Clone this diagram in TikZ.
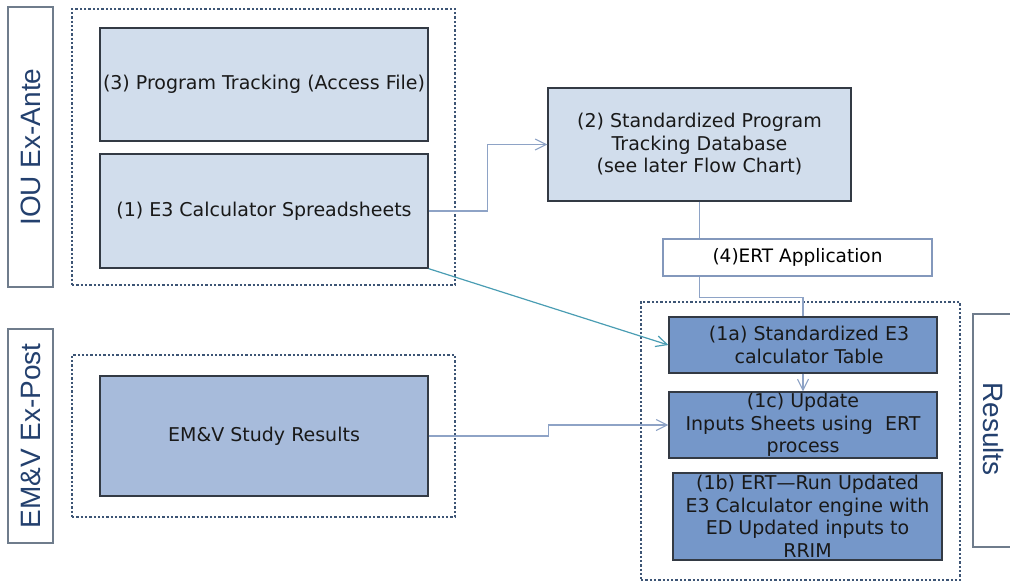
\documentclass[tikz,border=0pt]{standalone}
\usepackage{fontspec}
\setmainfont{DejaVu Sans}
\newfontfamily\labelfont{Liberation Sans}
\usetikzlibrary{arrows.meta}

\definecolor{lightfill}{HTML}{D1DDEC}
\definecolor{midfill}{HTML}{A7BBDB}
\definecolor{darkfill}{HTML}{7597C9}
\definecolor{boxline}{HTML}{333A44}
\definecolor{grouplne}{HTML}{3D5575}
\definecolor{connclr}{HTML}{8EA3C6}
\definecolor{tealclr}{HTML}{4A9DB3}
\definecolor{labelclr}{HTML}{23406E}
\definecolor{labelbox}{HTML}{6F7C8C}
\definecolor{ertline}{HTML}{8398BC}

\tikzset{
  boxtext/.style={font=\fontsize{19}{22.5}\selectfont, align=center, text=black!90},
  stepbox/.style={draw=boxline, line width=1.3pt, inner sep=0pt, boxtext},
  lightbox/.style={stepbox, fill=lightfill},
  midbox/.style={stepbox, fill=midfill},
  darkbox/.style={stepbox, fill=darkfill},
  groupbox/.style={draw=grouplne, line width=2.6pt, dash pattern=on 2.3pt off 2pt, inner sep=0pt},
  sidelabel/.style={draw=labelbox, line width=1.2pt, inner sep=0pt, text=labelclr,
    font=\labelfont\fontsize{28}{30}\selectfont},
  labeltext/.style={text=labelclr, font=\labelfont\fontsize{28}{30}\selectfont},
  conn/.style={draw=connclr, line width=1.1pt},
  flow/.style={conn, -{Straight Barb[length=11pt,width=11pt,line width=1.1pt]}},
  tealflow/.style={draw=tealclr, line width=1.2pt, -{Straight Barb[length=11pt,width=11pt,line width=1.2pt]}},
}

\begin{document}
\begin{tikzpicture}[x=1pt, y=-1pt]
\useasboundingbox (0,0) rectangle (1010,582);

% side labels
\node[sidelabel, minimum width=45pt, minimum height=280pt] (lblIOU) at (30.5,147) {};
\node[labeltext, rotate=90] (lblIOUtxt) at (lblIOU.center) {IOU Ex-Ante};
\node[sidelabel, minimum width=45pt, minimum height=214pt] (lblEMV) at (30.5,436) {};
\node[labeltext, rotate=90] (lblEMVtxt) at (lblEMV.center) {EM\&V Ex-Post};
\coordinate (resTL) at (973,314);
\coordinate (resBL) at (973,547);
\draw[draw=labelbox, line width=1.2pt] (resTL -| 1012,0) -- (resTL) -- (resBL) -- (resBL -| 1012,0);
\node[labeltext, rotate=-90] (lblRes) at (993,429) {Results};

% dotted groups
\node[groupbox, minimum width=383pt, minimum height=276pt] (grpIOU) at (263.5,147) {};
\node[groupbox, minimum width=383pt, minimum height=162pt] (grpEMV) at (263.5,436) {};
\node[groupbox, minimum width=319pt, minimum height=278pt] (grpRes) at (800.5,441) {};

% process boxes
\node[lightbox, minimum width=328pt, minimum height=113pt] (b3) at (264,84.5) {(3) Program Tracking (Access File)};
\node[lightbox, minimum width=328pt, minimum height=114pt] (b1) at (264,211) {(1) E3 Calculator Spreadsheets};
\node[lightbox, minimum width=303pt, minimum height=113pt] (b2) at (699.5,144.5) {(2) Standardized Program\\Tracking Database\\(see later Flow Chart)};
\node[midbox, minimum width=328pt, minimum height=120pt] (bEMV) at (264,436) {EM\&V Study Results};
\node[darkbox, minimum width=268pt, minimum height=56pt] (b1a) at (803,345) {~~(1a) Standardized E3\\~~calculator Table};
\node[darkbox, minimum width=268pt, minimum height=66pt] (b1c) at (803,425) {(1c) Update\\Inputs Sheets using~ ERT\\process};
\node[darkbox, minimum width=269pt, minimum height=87pt] (b1b) at (807.5,516.5) {(1b) ERT---Run Updated\\E3 Calculator engine with\\ED Updated inputs to\\RRIM};

% connectors
\draw[flow] (b1.east) -- ++(59,0) |- (b2.west);
\draw[conn] (b2.south) -- ++(0,96) -| (b1a.north);
\draw[flow] (b1a.south) -- (b1c.north);
\draw[tealflow] (b1.south east) -- (b1a.west);
\draw[flow] (bEMV.east) -- ++(120,0) |- (b1c.west);

% application label sits over the database link
\node[draw=ertline, fill=white, line width=1.1pt, minimum width=269pt, minimum height=37pt, inner sep=0pt,
      font=\fontsize{18.5}{22}\selectfont] (ert) at (797.5,257.5) {(4)ERT Application};
\end{tikzpicture}
\end{document}
